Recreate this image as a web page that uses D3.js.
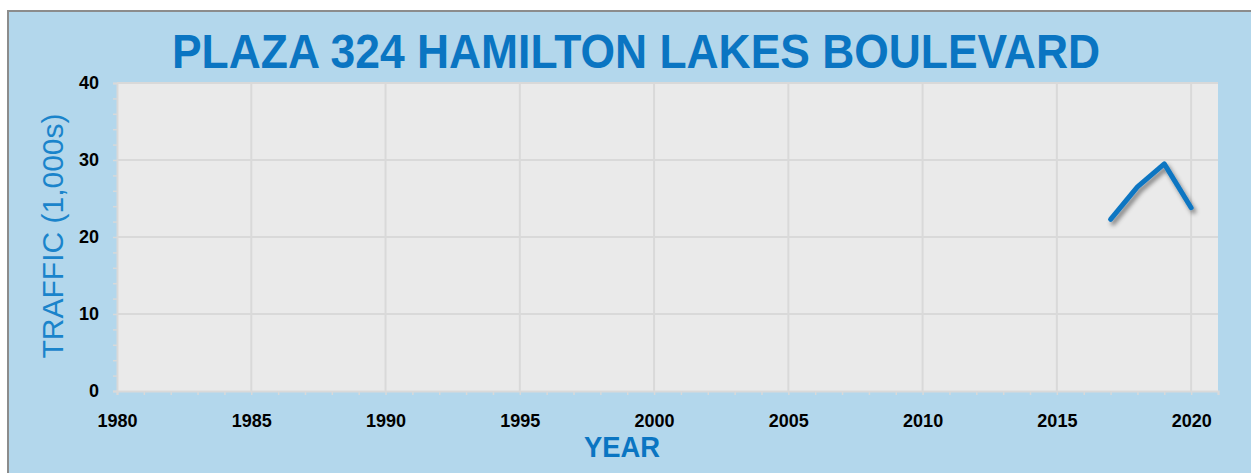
<!DOCTYPE html>
<html><head><meta charset="utf-8">
<script src="https://cdn.jsdelivr.net/npm/d3@7"></script>
<style>body{margin:0;background:#fff}svg{display:block}</style>
</head><body>
<svg id="c" width="1251" height="473"></svg>
<script>
const title = "PLAZA 324 HAMILTON LAKES BOULEVARD";
const yLabel = "TRAFFIC (1,000s)";
const xLabel = "YEAR";
const years = [2017, 2018, 2019, 2020];
const traffic = [22.3, 26.5, 29.5, 23.8];
const xTicks = [1980, 1985, 1990, 1995, 2000, 2005, 2010, 2015, 2020];
const yTicks = [0, 10, 20, 30, 40];

const svg = d3.select("#c");
const W = 1251, H = 473;
const m = {l:117, r:1218, t:83, b:391};
const x = d3.scaleLinear().domain([1980, 2021]).range([m.l, m.r]);
const y = d3.scaleLinear().domain([0, 40]).range([m.b, m.t]);

const defs = svg.append("defs");
const f = defs.append("filter").attr("id","sh").attr("x","-20%").attr("y","-20%").attr("width","150%").attr("height","150%");
f.append("feDropShadow").attr("dx",2.5).attr("dy",3.5).attr("stdDeviation",2).attr("flood-color","#000").attr("flood-opacity",0.45);

svg.append("rect").attr("x",0).attr("y",0).attr("width",W).attr("height",H).attr("fill","#fff");
svg.append("rect").attr("x",8).attr("y",11).attr("width",W).attr("height",H).attr("fill","#B3D7EC").attr("stroke","#8c8c8c").attr("stroke-width",2);

svg.append("rect").attr("x",m.l).attr("y",m.t).attr("width",m.r-m.l).attr("height",m.b-m.t).attr("fill","#EAEAEA");

// grid
svg.append("g").selectAll("line").data(xTicks.slice(1)).join("line")
  .attr("x1",d=>x(d)).attr("x2",d=>x(d)).attr("y1",m.t).attr("y2",m.b)
  .attr("stroke","#D9D9D9").attr("stroke-width",2);
svg.append("g").selectAll("line").data(yTicks.slice(1)).join("line")
  .attr("x1",m.l).attr("x2",m.r).attr("y1",d=>y(d)).attr("y2",d=>y(d))
  .attr("stroke","#D9D9D9").attr("stroke-width",2);

// axes
const xa = svg.append("g").attr("transform",`translate(0,${m.b})`)
  .call(d3.axisBottom(x).tickValues(d3.range(1980, 2022, 1)).tickSize(4).tickFormat(""));
xa.select(".domain").attr("stroke","#D9D9D9").attr("stroke-width",2);
xa.selectAll(".tick line").attr("stroke","#D9D9D9").attr("stroke-width",1.5);
const xl = svg.append("g").attr("transform",`translate(0,${m.b})`)
  .call(d3.axisBottom(x).tickValues(xTicks).tickSize(0).tickPadding(23).tickFormat(d3.format("d")));
xl.select(".domain").remove();
xl.selectAll("text").attr("font-family","Liberation Sans, Arial, sans-serif").attr("font-weight","bold").attr("font-size",18).attr("fill","#000");

const ya = svg.append("g").attr("transform",`translate(${m.l},0)`)
  .call(d3.axisLeft(y).tickValues(d3.range(0, 41, 2)).tickSize(4).tickFormat(""));
ya.select(".domain").attr("stroke","#D9D9D9").attr("stroke-width",2);
ya.selectAll(".tick line").attr("stroke","#D9D9D9").attr("stroke-width",1.5);
const yl = svg.append("g").attr("transform",`translate(${m.l},0)`)
  .call(d3.axisLeft(y).tickValues(yTicks).tickSize(0).tickPadding(18));
yl.select(".domain").remove();
yl.selectAll("text").attr("font-family","Liberation Sans, Arial, sans-serif").attr("font-weight","bold").attr("font-size",18).attr("fill","#000");

// line
const pts = years.map((d,i)=>[d, traffic[i]]);
svg.append("path").datum(pts)
  .attr("d", d3.line().x(d=>x(d[0])).y(d=>y(d[1])))
  .attr("fill","none").attr("stroke","#0E76C2").attr("stroke-width",5)
  .attr("stroke-linecap","round").attr("stroke-linejoin","round")
  .attr("filter","url(#sh)");

// texts
svg.append("text").attr("x",636).attr("y",68).attr("text-anchor","middle")
  .attr("font-family","Liberation Sans, Arial, sans-serif").attr("font-weight","bold").attr("font-size",48)
  .attr("textLength",928).attr("lengthAdjust","spacingAndGlyphs")
  .attr("fill","#0A75C2").text(title);
svg.append("text").attr("transform","translate(63,236) rotate(-90)").attr("text-anchor","middle")
  .attr("font-family","Liberation Sans, Arial, sans-serif").attr("font-size",30)
  .attr("fill","#1A84CB").text(yLabel);
svg.append("text").attr("x",622).attr("y",457).attr("text-anchor","middle")
  .attr("font-family","Liberation Sans, Arial, sans-serif").attr("font-weight","bold").attr("font-size",30)
  .attr("textLength",76).attr("lengthAdjust","spacingAndGlyphs")
  .attr("fill","#0A75C2").text(xLabel);
</script>
</body></html>
